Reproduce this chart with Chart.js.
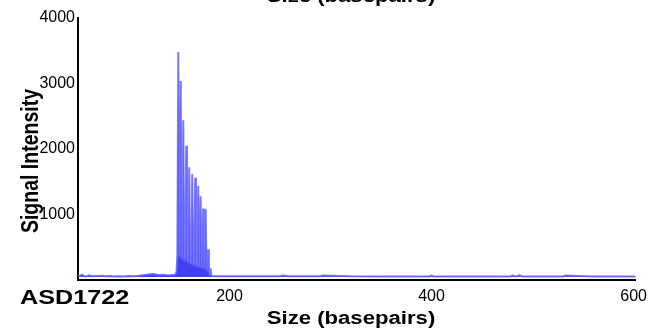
<!DOCTYPE html>
<html>
<head>
<meta charset="utf-8">
<script src="https://cdn.jsdelivr.net/npm/chart.js@4"></script>
<style>
  html, body { margin: 0; padding: 0; background: #fff; }
  #wrap { width: 654px; height: 328px; }
</style>
</head>
<body>
<div id="wrap"><canvas id="traceChart"></canvas></div>
<script>
// fragment sizes (bp) and signal
const sizes = [
  50, 52, 54, 56, 58, 61, 64, 67, 70, 74, 78, 82, 86, 90, 95, 100, 105, 110, 114, 118,
  122, 125, 128, 131, 134, 137, 140, 143, 146, 147.5,
  148.4, 149.3, 150.2, 150.9, 151.7, 152.5, 153.4, 154.2, 155.0, 156.3, 157.1, 157.9,
  159.3, 160.1, 160.9, 162.3, 163.1, 163.9, 165.2, 166.0, 166.8, 168.2, 169.0, 169.8,
  170.6, 171.4, 172.2, 173.1, 173.9, 174.7, 175.6, 176.4, 177.2, 178.0, 178.8, 179.6,
  180.2, 180.8, 181.3, 181.8, 183,
  190, 200, 220, 250, 252, 260, 290, 292, 320, 350, 398, 400, 402, 450, 478, 480, 484, 487, 490,
  520, 530, 532, 560, 600, 602
];
const signal = [
  60, 65, 80, 60, 55, 70, 58, 62, 60, 65, 58, 60, 55, 58, 55, 60, 58, 65, 72, 80,
  88, 92, 82, 76, 80, 75, 72, 76, 80, 120,
  390, 3480, 370, 360, 3040, 350, 330, 2440, 320, 300, 2050, 290,
  270, 1720, 265, 250, 1620, 245, 230, 1560, 225, 210, 1440, 205,
  200, 1280, 195, 190, 1090, 185, 180, 1080, 170, 150, 470, 120,
  70, 75, 180, 70, 60,
  58, 56, 57, 56, 70, 56, 56, 68, 56, 55, 55, 68, 55, 55, 55, 68, 55, 70, 55,
  55, 55, 68, 55, 55, 55
];
const xTicks = [200, 400, 600];
const yTicks = [1000, 2000, 3000, 4000];

const points = sizes.map((s, i) => ({ x: s, y: signal[i] }));

// text in the source image is stretched sideways a bit, so widen it
function wideText(ctx, txt, x, y, sx) {
  ctx.save();
  ctx.translate(x, y);
  ctx.scale(sx, 1);
  ctx.fillText(txt, 0, 0);
  ctx.restore();
}

const textPlugin = {
  id: 'panelText',
  afterDraw(chart) {
    const ctx = chart.ctx;
    ctx.save();
    ctx.fillStyle = '#000';
    ctx.font = 'bold 18px "Liberation Sans", Arial, sans-serif';
    ctx.textAlign = 'center';
    ctx.textBaseline = 'alphabetic';
    wideText(ctx, 'Size (basepairs)', 351, 2, 1.23);
    wideText(ctx, 'Size (basepairs)', 351, 324, 1.23);

    ctx.save();
    ctx.translate(38, 161);
    ctx.scale(1.2, 1);
    ctx.rotate(-Math.PI / 2);
    ctx.font = 'bold 19.5px "Liberation Sans", Arial, sans-serif';
    ctx.fillText('Signal Intensity', 0, 0);
    ctx.restore();

    ctx.font = 'bold 21px "Liberation Sans", Arial, sans-serif';
    ctx.textAlign = 'left';
    wideText(ctx, 'ASD1722', 20, 304, 1.2);
    ctx.restore();
  }
};

new Chart(document.getElementById('traceChart'), {
  type: 'line',
  data: {
    datasets: [{
      data: points,
      borderColor: 'rgba(95,95,255,0.85)',
      backgroundColor: 'rgba(0,0,235,0.75)',
      borderWidth: 2,
      pointRadius: 0,
      tension: 0,
      fill: { value: 45 }
    }]
  },
  options: {
    responsive: true,
    maintainAspectRatio: false,
    animation: false,
    layout: { padding: { top: 18, right: 16, left: 0, bottom: 0 } },
    plugins: {
      legend: { display: false },
      tooltip: { enabled: false }
    },
    scales: {
      x: {
        type: 'linear',
        min: 50,
        max: 602,
        grid: { display: false, drawTicks: false },
        border: { display: true, color: '#000', width: 2 },
        afterBuildTicks: s => { s.ticks = xTicks.map(v => ({ value: v })); },
        afterFit: s => { s.height = 48; },
        ticks: {
          color: '#000',
          padding: 7,
          maxRotation: 0,
          callback: v => String(v),
          font: { family: '"Liberation Sans", Arial, sans-serif', size: 16 }
        }
      },
      y: {
        min: 0,
        max: 4000,
        grid: { display: false, drawTicks: false },
        border: { display: true, color: '#000', width: 2 },
        afterBuildTicks: s => { s.ticks = yTicks.map(v => ({ value: v })); },
        afterFit: s => { s.width = 78; },
        ticks: {
          color: '#000',
          padding: 3,
          callback: v => String(v),
          font: { family: '"Liberation Sans", Arial, sans-serif', size: 16 }
        }
      }
    }
  },
  plugins: [textPlugin]
});
</script>
</body>
</html>
